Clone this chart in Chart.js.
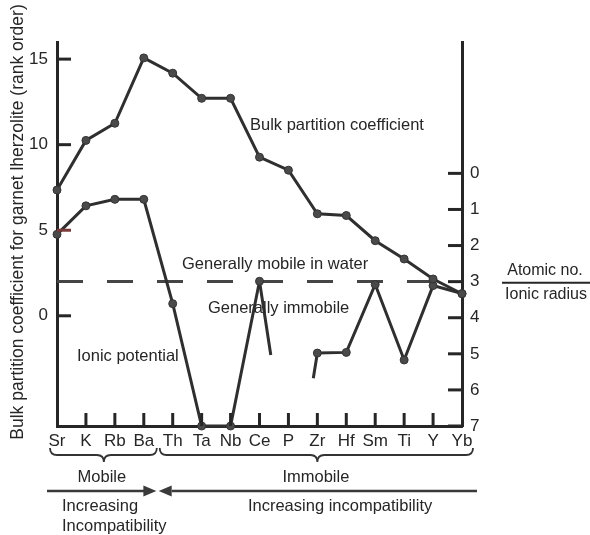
<!DOCTYPE html>
<html>
<head>
<meta charset="utf-8">
<script src="https://cdn.jsdelivr.net/npm/chart.js@4/dist/chart.umd.min.js"></script>
<style>
  html, body { margin: 0; padding: 0; background: #fff; }
  canvas { display: block; }
</style>
</head>
<body>
<canvas id="c" width="590" height="535"></canvas>
<script>
// Elements in order of increasing incompatibility
const elements = ['Sr', 'K', 'Rb', 'Ba', 'Th', 'Ta', 'Nb', 'Ce', 'P', 'Zr', 'Hf', 'Sm', 'Ti', 'Y', 'Yb'];

// Bulk partition coefficient for garnet lherzolite (rank order), left axis
const bulkPartition = [7.35, 10.25, 11.25, 15.07, 14.18, 12.71, 12.71, 9.27, 8.51, 5.96, 5.86, 4.39, 3.32, 2.15, 1.29];

// Ionic potential (atomic no. / ionic radius), right axis; P lies off the scale
const ionicPotential = [1.69, 0.9, 0.72, 0.72, 3.61, 7, 7, 2.99, null, 4.98, 4.96, 3.08, 5.17, 3.11, 3.33];

// Short runs of the ionic-potential line heading towards P from Ce and from Zr
const ceStubX = [7, 7.39];
const ceStubY = [2.99, 5.03];
const zrStubX = [8.86, 9];
const zrStubY = [5.68, 4.98];

// Boundary between elements that are mobile and immobile in water
const waterLevel = 2;
const waterLineX = [0, 13];

// Axis tick values
const leftTicks = [0, 5, 10, 15];
const rightTicks = [0, 1, 2, 3, 4, 5, 6, 7];

const FONT = '"Liberation Sans", Arial, Helvetica, sans-serif';
const INK = '#262626';
const LINE = '#2f2f2f';

const toPoints = (xs, ys) => xs.map((v, i) => ({ x: v, y: ys[i] }));
const seriesPoints = vals => vals.map((v, i) => ({ x: i, y: v }));

const stubPoints = [
  ...toPoints(ceStubX, ceStubY),
  { x: 8, y: null },
  ...toPoints(zrStubX, zrStubY)
];

// Labels placed in data coordinates: [text, x index, left-axis value]
const plotNotes = [
  ['Bulk partition coefficient', 6.67, 11.1],
  ['Generally mobile in water', 4.32, 3.0],
  ['Generally immobile', 5.22, 0.45],
  ['Ionic potential', 0.69, -2.4]
];

function line(ctx, x1, y1, x2, y2) {
  ctx.beginPath();
  ctx.moveTo(x1, y1);
  ctx.lineTo(x2, y2);
  ctx.stroke();
}

function brace(ctx, x1, x2, xm, top, r) {
  ctx.beginPath();
  ctx.moveTo(x1, top);
  ctx.quadraticCurveTo(x1, top + r, x1 + r, top + r);
  ctx.lineTo(xm - r, top + r);
  ctx.quadraticCurveTo(xm, top + r, xm, top + 2 * r);
  ctx.quadraticCurveTo(xm, top + r, xm + r, top + r);
  ctx.lineTo(x2 - r, top + r);
  ctx.quadraticCurveTo(x2, top + r, x2, top);
  ctx.stroke();
}

function arrowHead(ctx, tipX, y, dir, len, half) {
  ctx.beginPath();
  ctx.moveTo(tipX, y);
  ctx.lineTo(tipX - dir * len, y - half);
  ctx.lineTo(tipX - dir * len, y + half);
  ctx.closePath();
  ctx.fill();
}

const decor = {
  id: 'decor',
  afterDraw(chart) {
    const { ctx, chartArea: a, scales } = chart;
    const { x, y, y2 } = scales;
    ctx.save();

    // inward tick marks
    ctx.lineWidth = 3;
    ctx.lineCap = 'butt';
    y.ticks.forEach(t => {
      const py = y.getPixelForValue(t.value);
      ctx.strokeStyle = t.value === 5 ? '#7a3a3a' : INK;
      line(ctx, a.left, py, a.left + 14, py);
    });
    ctx.strokeStyle = INK;
    y2.ticks.forEach(t => {
      const py = y2.getPixelForValue(t.value);
      line(ctx, a.right - 14, py, a.right, py);
    });
    x.ticks.forEach(t => {
      if (t.value <= 0 || t.value >= elements.length - 1) return;
      const px = x.getPixelForValue(t.value);
      line(ctx, px, a.bottom, px, a.bottom - 13);
    });

    // labels inside the plot
    ctx.fillStyle = INK;
    ctx.font = '16.5px ' + FONT;
    ctx.textAlign = 'left';
    ctx.textBaseline = 'middle';
    plotNotes.forEach(([text, xv, yv]) => {
      ctx.fillText(text, x.getPixelForValue(xv), y.getPixelForValue(yv));
    });

    // ratio label beside the right axis
    const rx = a.right + 40;
    const ry = y2.getPixelForValue(3);
    ctx.font = '16px ' + FONT;
    ctx.textAlign = 'center';
    ctx.fillText('Atomic no.', rx + 43, ry - 11);
    ctx.fillText('Ionic radius', rx + 44, ry + 13);
    ctx.lineWidth = 2;
    line(ctx, rx, ry + 1, 590, ry + 1);

    // vertical axis title
    ctx.save();
    ctx.translate(18, 222);
    ctx.rotate(-Math.PI / 2);
    ctx.font = '17.5px ' + FONT;
    ctx.textAlign = 'center';
    ctx.textBaseline = 'middle';
    ctx.fillText('Bulk partition coefficient for garnet lherzolite (rank order)', 0, 0);
    ctx.restore();

    // braces grouping the elements
    const bx = i => x.getPixelForValue(i);
    ctx.strokeStyle = '#333';
    ctx.lineWidth = 1.8;
    brace(ctx, bx(0) - 7, bx(3.45), bx(1.62), a.bottom + 22, 7);
    brace(ctx, bx(3.55), bx(14) + 11, bx(9), a.bottom + 22, 7);

    ctx.font = '16.5px ' + FONT;
    ctx.textAlign = 'center';
    ctx.fillStyle = INK;
    ctx.fillText('Mobile', bx(1.55), a.bottom + 51);
    ctx.fillText('Immobile', bx(8.95), a.bottom + 51);

    // incompatibility arrows
    const ay = a.bottom + 65;
    ctx.strokeStyle = '#3a3a3a';
    ctx.fillStyle = '#3a3a3a';
    ctx.lineWidth = 2.6;
    line(ctx, a.left - 10, ay, bx(3.4) - 10, ay);
    arrowHead(ctx, bx(3.4) + 1, ay, 1, 13, 5.5);
    line(ctx, bx(3.55) + 12, ay, bx(14) + 15, ay);
    arrowHead(ctx, bx(3.55) - 1, ay, -1, 13, 5.5);

    ctx.fillStyle = INK;
    ctx.textAlign = 'left';
    ctx.fillText('Increasing', a.left + 5, ay + 15);
    ctx.fillText('Incompatibility', a.left + 5, ay + 35);
    ctx.fillText('Increasing incompatibility', bx(6.6), ay + 15);

    ctx.restore();
  }
};

const lineStyle = {
  borderColor: LINE,
  borderWidth: 3,
  pointRadius: 4,
  pointBackgroundColor: '#4a4a4a',
  pointBorderColor: '#333',
  pointBorderWidth: 1,
  tension: 0,
  spanGaps: false,
  clip: 8
};

const axisGrid = { display: false, drawTicks: false };

new Chart(document.getElementById('c'), {
  type: 'line',
  data: {
    datasets: [
      { label: 'Bulk partition coefficient', data: seriesPoints(bulkPartition), yAxisID: 'y', ...lineStyle },
      { label: 'Ionic potential', data: seriesPoints(ionicPotential), yAxisID: 'y2', ...lineStyle },
      { label: 'Ionic potential (towards P)', data: stubPoints, yAxisID: 'y2', ...lineStyle, pointRadius: 0 },
      {
        label: 'Generally mobile in water',
        data: toPoints(waterLineX, waterLineX.map(() => waterLevel)),
        yAxisID: 'y',
        borderColor: '#454545',
        borderWidth: 3,
        borderDash: [26, 24],
        pointRadius: 0,
        clip: 8
      }
    ]
  },
  options: {
    responsive: false,
    animation: false,
    layout: { padding: { top: 42, left: 0, right: 0, bottom: 0 } },
    plugins: { legend: { display: false }, tooltip: { enabled: false } },
    scales: {
      x: {
        type: 'linear',
        position: 'bottom',
        min: 0,
        max: elements.length - 1,
        grid: axisGrid,
        border: { display: true, color: INK, width: 3 },
        ticks: {
          stepSize: 1,
          autoSkip: false,
          maxRotation: 0,
          padding: 5,
          color: INK,
          font: { family: FONT, size: 17 },
          callback: v => elements[v] ?? ''
        },
        afterFit: s => { s.height = 109; }
      },
      y: {
        type: 'linear',
        position: 'left',
        min: -6.44,
        max: 16,
        bounds: 'data',
        grid: axisGrid,
        border: { display: true, color: INK, width: 3 },
        ticks: { padding: 9, color: INK, font: { family: FONT, size: 17 } },
        afterBuildTicks: s => { s.ticks = leftTicks.map(v => ({ value: v })); },
        afterFit: s => { s.width = 57; }
      },
      y2: {
        type: 'linear',
        position: 'right',
        reverse: true,
        min: -3.64,
        max: 7,
        bounds: 'data',
        grid: axisGrid,
        border: { display: true, color: INK, width: 3 },
        ticks: { padding: 8, color: INK, font: { family: FONT, size: 17 } },
        afterBuildTicks: s => { s.ticks = rightTicks.map(v => ({ value: v })); },
        afterFit: s => { s.width = 128; }
      }
    }
  },
  plugins: [decor]
});
</script>
</body>
</html>
